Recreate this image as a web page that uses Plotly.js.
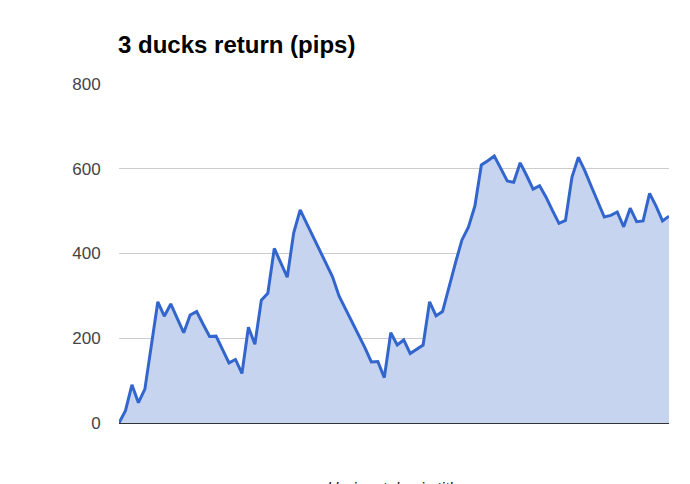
<!DOCTYPE html>
<html>
<head>
<meta charset="utf-8">
<script src="https://cdn.plot.ly/plotly-3.0.1.min.js"></script>
<style>
  html, body { margin: 0; padding: 0; background: #fff; }
  #chart { width: 690px; height: 484px; }
</style>
</head>
<body>
<div id="chart"></div>
<script>
// return in pips, one value per trade
const pips = [
  0, 29, 90, 48, 80, 183, 286, 252, 281, 247,
  213, 255, 263, 233, 204, 205, 174, 142, 150, 117,
  226, 186, 290, 306, 412, 377, 344, 449, 503, 471,
  439, 407, 375, 345, 300, 270, 239, 208, 178, 144,
  145, 107, 213, 184, 196, 164, 174, 184, 286, 253,
  263, 322, 378, 432, 462, 512, 609, 619, 630, 601,
  571, 568, 614, 584, 552, 560, 533, 501, 471, 478,
  580, 627, 595, 558, 522, 486, 490, 498, 463, 507,
  475, 477, 542, 512, 477, 488
];
const yTicks = [0, 200, 400, 600, 800];

window.addEventListener("DOMContentLoaded", () => {

  const trace = {
    y: pips,
    type: "scatter",
    mode: "lines",
    fill: "tozeroy",
    fillcolor: "#c6d4f0",
    line: { color: "#3366cc", width: 3 },
    hoverinfo: "y"
  };

  const layout = {
    width: 690,
    height: 484,
    margin: { l: 119, r: 21, t: 84, b: 61 },
    paper_bgcolor: "#fff",
    plot_bgcolor: "#fff",
    showlegend: false,
    font: { family: "Liberation Sans, Arial, sans-serif", color: "#444" },
    title: {
      text: "<b>3 ducks return (pips)</b>",
      font: { size: 24, color: "#000" },
      x: 118 / 690, xanchor: "left",
      y: 1 - 45 / 484, yanchor: "middle"
    },
    xaxis: {
      range: [0, pips.length - 1],
      showgrid: false,
      zeroline: false,
      showticklabels: false,
      showline: false,
      ticks: ""
    },
    yaxis: {
      range: [0, 800],
      tickvals: yTicks,
      ticktext: yTicks.map(String),
      tickfont: { size: 17, color: "#444" },
      ticks: "outside",
      ticklen: 14,
      tickcolor: "rgba(0,0,0,0)",
      showgrid: true,
      gridcolor: "#cccccc",
      gridwidth: 1,
      zeroline: true,
      zerolinecolor: "#333",
      zerolinewidth: 2,
      showline: false
    },
    annotations: [{
      text: "<i>Horizontal axis title</i>",
      xref: "paper", yref: "paper",
      x: 0.5, y: -55 / 339,
      xanchor: "center", yanchor: "top",
      showarrow: false,
      font: { size: 16, color: "#222" }
    }]
  };

  Plotly.newPlot("chart", [trace], layout, { displayModeBar: false, staticPlot: true });
});
</script>
</body>
</html>
